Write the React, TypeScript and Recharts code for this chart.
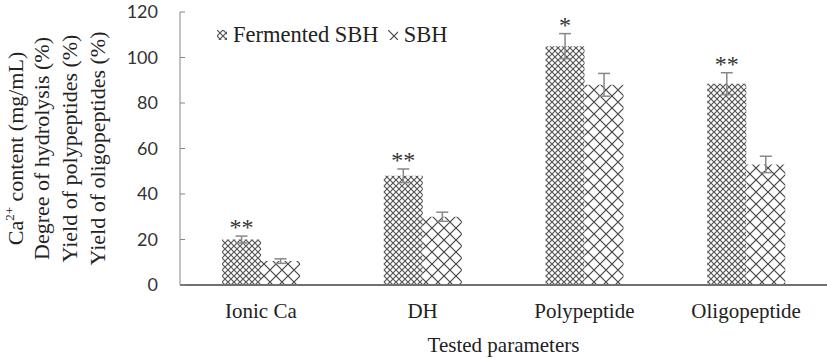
import React from "react";
import {
  BarChart,
  Bar,
  XAxis,
  YAxis,
  ErrorBar,
  LabelList,
  Legend,
} from "recharts";

const categories = ["Ionic Ca", "DH", "Polypeptide", "Oligopeptide"];
const fermented = [20, 48, 105, 88.5];
const fermentedErr = [1.5, 3, 5.5, 4.8];
const sbh = [10.5, 30, 88, 53];
const sbhErr = [1, 2, 5, 3.6];
const significance = ["**", "**", "*", "**"];
const yTicks = [0, 20, 40, 60, 80, 100, 120];
const yLabelLines = [
  "Yield of oligopeptides (%)",
  "Yield of polypeptides (%)",
  "Degree of hydrolysis (%)",
];

const data = categories.map((name, i) => ({
  name,
  fermented: fermented[i],
  fErr: fermentedErr[i],
  sbh: sbh[i],
  sErr: sbhErr[i],
  sig: significance[i],
}));

const SERIF = "'Liberation Serif', 'Times New Roman', serif";

function SigLabel(props: any) {
  const { x, y, width, height, index } = props;
  const v = fermented[index];
  const perUnit = height / v;
  const errTop = y - fermentedErr[index] * perUnit;
  return (
    <text
      x={x + width / 2}
      y={errTop - 1}
      textAnchor="middle"
      fontFamily={SERIF}
      fontSize={24}
      fill="#333"
    >
      {significance[index]}
    </text>
  );
}

function YLabel(props: any) {
  const { viewBox } = props;
  const cy = viewBox.y + viewBox.height / 2;
  const xs = [97, 69, 41];
  return (
    <g fontFamily={SERIF} fontSize={22} fill="#222">
      {yLabelLines.map((t, i) => (
        <text
          key={t}
          x={xs[i]}
          y={cy}
          textAnchor="middle"
          dominantBaseline="central"
          transform={`rotate(-90 ${xs[i]} ${cy})`}
        >
          {t}
        </text>
      ))}
      <text
        x={15}
        y={cy}
        textAnchor="middle"
        dominantBaseline="central"
        transform={`rotate(-90 15 ${cy})`}
      >
        Ca<tspan dy={-6} fontSize={13}>2+</tspan>
        <tspan dy={6}> content (mg/mL)</tspan>
      </text>
    </g>
  );
}

function XLabel(props: any) {
  const { viewBox } = props;
  return (
    <text
      x={viewBox.x + viewBox.width / 2}
      y={352}
      textAnchor="middle"
      fontFamily={SERIF}
      fontSize={21}
      fill="#222"
    >
      Tested parameters
    </text>
  );
}

function LegendContent() {
  const items = [
    { label: "Fermented SBH", fill: "url(#fineHatch)" },
    { label: "SBH", fill: "url(#bigHatch)" },
  ];
  return (
    <div style={{ display: "flex", alignItems: "center", fontFamily: SERIF, fontSize: 22.5, color: "#222", whiteSpace: "nowrap" }}>
      {items.map((it) => (
        <span key={it.label} style={{ display: "flex", alignItems: "center", marginRight: 9 }}>
          <svg width={10} height={10} style={{ marginRight: 6 }}>
            <rect width={10} height={10} fill={it.fill} />
          </svg>
          {it.label}
        </span>
      ))}
    </div>
  );
}

export default function App() {
  return (
    <div style={{ position: "absolute", left: 0, top: 0, background: "#fff" }}>
      <BarChart
        width={827}
        height={359}
        data={data}
        margin={{ top: 12, right: 0, left: 0, bottom: 0 }}
        barCategoryGap="26%"
        barGap={0}
      >
        <defs>
          <pattern id="fineHatch" width={6} height={6} patternUnits="userSpaceOnUse">
            <rect width={6} height={6} fill="#fff" />
            <path d="M0,0 L6,6 M6,0 L0,6" stroke="#555" strokeWidth={1.2} />
          </pattern>
          <pattern id="bigHatch" width={12} height={12} patternUnits="userSpaceOnUse">
            <rect width={12} height={12} fill="#fff" />
            <path d="M0,0 L12,12 M12,0 L0,12" stroke="#444" strokeWidth={1.2} />
          </pattern>
        </defs>
        <XAxis
          dataKey="name"
          height={74}
          axisLine={{ stroke: "#707070", strokeWidth: 2 }}
          tickLine={false}
          tickSize={0}
          tickMargin={18}
          tick={{ fontFamily: SERIF, fontSize: 21, fill: "#222" }}
          label={<XLabel />}
        />
        <YAxis
          width={180}
          domain={[0, 120]}
          ticks={yTicks}
          interval={0}
          axisLine={{ stroke: "#868686" }}
          tickLine={{ stroke: "#868686" }}
          tickSize={-5}
          tickMargin={27}
          tick={{ fontFamily: "Lato, 'Open Sans', sans-serif", fontSize: 18, fill: "#333" }}
          label={<YLabel />}
        />
        <Legend
          layout="vertical"
          verticalAlign="middle"
          align="center"
          wrapperStyle={{ top: 22, left: 217, width: "auto" }}
          content={<LegendContent />}
        />
        <Bar dataKey="fermented" name="Fermented SBH" fill="url(#fineHatch)" isAnimationActive={false}>
          <ErrorBar dataKey="fErr" width={6} stroke="#888" strokeWidth={1.5} direction="y" />
          <LabelList dataKey="fermented" content={<SigLabel />} />
        </Bar>
        <Bar dataKey="sbh" name="SBH" fill="url(#bigHatch)" isAnimationActive={false}>
          <ErrorBar dataKey="sErr" width={6} stroke="#888" strokeWidth={1.5} direction="y" />
        </Bar>
      </BarChart>
    </div>
  );
}
